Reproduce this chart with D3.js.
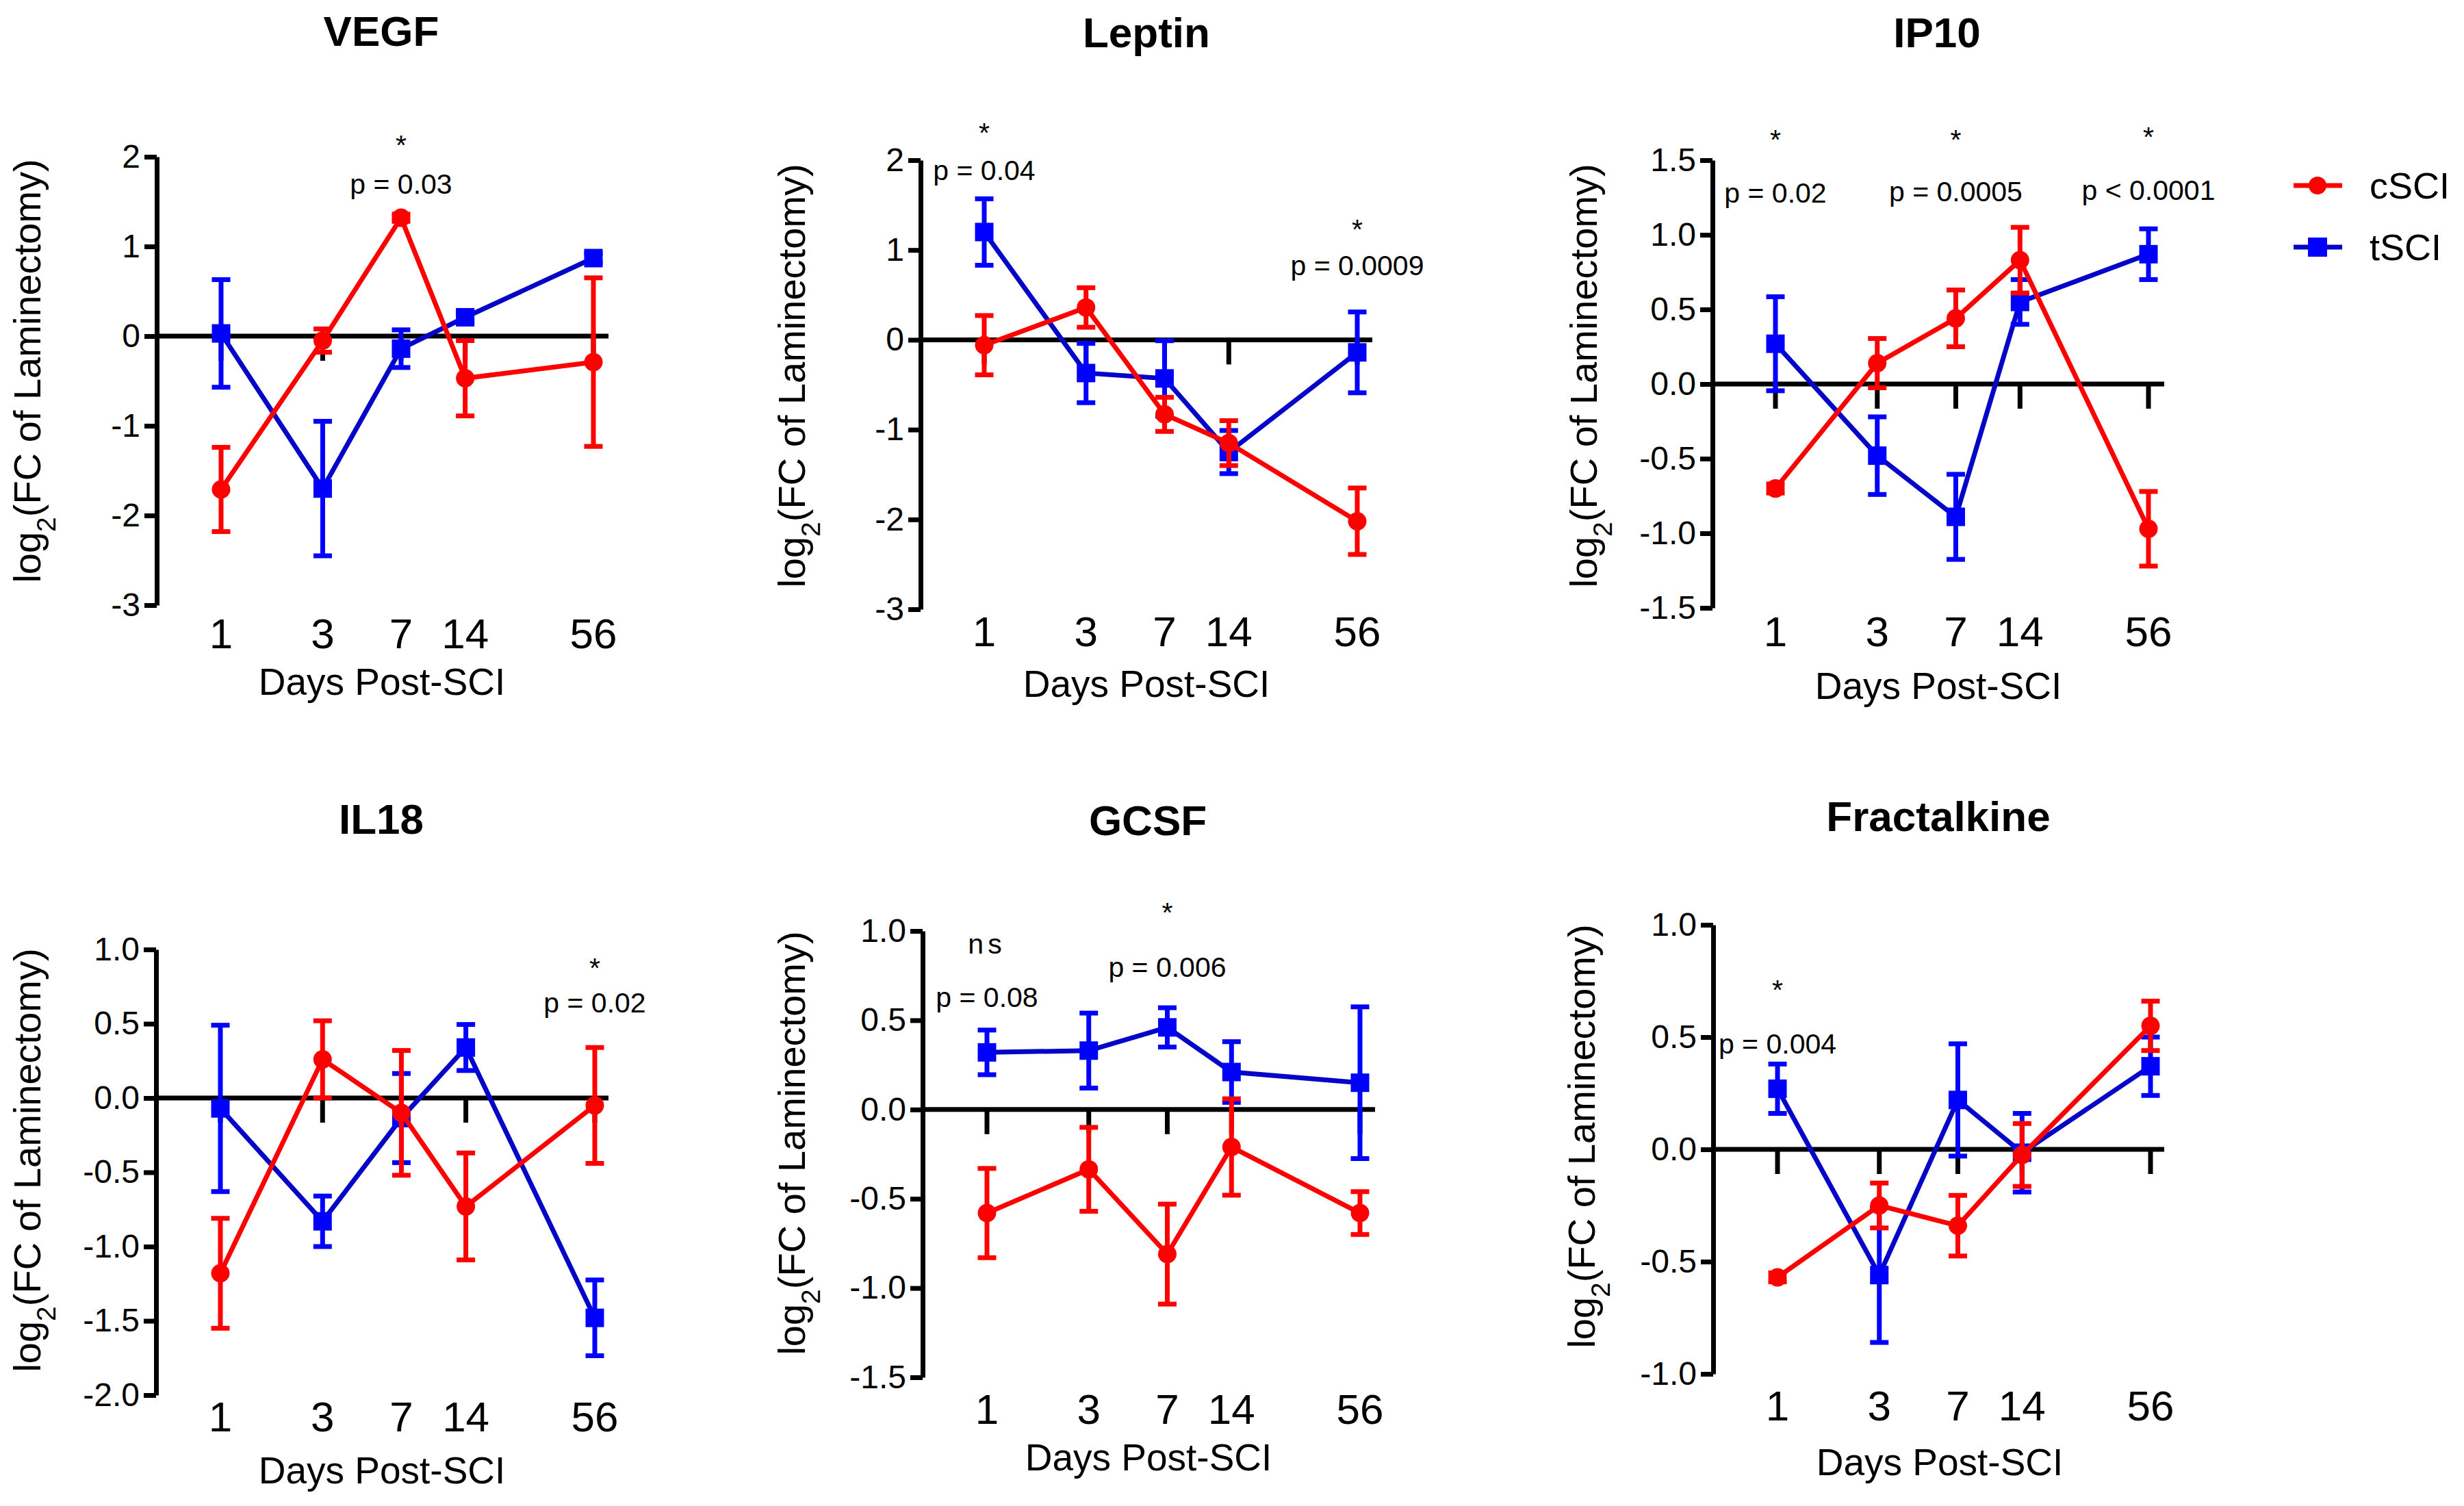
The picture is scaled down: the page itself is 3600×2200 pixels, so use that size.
<!DOCTYPE html>
<html>
<head>
<meta charset="utf-8">
<script src="https://cdn.jsdelivr.net/npm/d3@7"></script>
<style>
  body { margin: 0; background: #fff; }
  svg { display: block; font-family: "Liberation Sans", Arial, sans-serif; }
</style>
</head>
<body>
<div id="chart"></div>
<script>
// Days after injury (x values, log spaced)
const days = [1, 3, 7, 14, 56];
const titles = ["VEGF", "Leptin", "IP10", "IL18", "GCSF", "Fractalkine"];

// means and SEM, cSCI (red) / tSCI (blue)
const vegfC = [-1.71, -0.05, 1.32, -0.47, -0.29];
const vegfCErr = [0.47, 0.13, 0.04, 0.42, 0.94];
const vegfT = [0.03, -1.70, -0.14, 0.21, 0.87];
const vegfTErr = [0.60, 0.75, 0.21, 0.05, 0.05];

const leptinC = [-0.06, 0.36, -0.83, -1.15, -2.02];
const leptinCErr = [0.33, 0.22, 0.19, 0.25, 0.37];
const leptinT = [1.20, -0.37, -0.43, -1.25, -0.14];
const leptinTErr = [0.37, 0.33, 0.42, 0.24, 0.45];

const ip10C = [-0.70, 0.14, 0.44, 0.83, -0.97];
const ip10CErr = [0.03, 0.165, 0.19, 0.22, 0.25];
const ip10T = [0.27, -0.48, -0.89, 0.55, 0.87];
const ip10TErr = [0.315, 0.26, 0.285, 0.15, 0.17];

const il18C = [-1.18, 0.26, -0.10, -0.73, -0.05];
const il18CErr = [0.37, 0.26, 0.42, 0.36, 0.39];
const il18T = [-0.07, -0.83, -0.135, 0.34, -1.48];
const il18TErr = [0.56, 0.17, 0.30, 0.155, 0.255];

const gcsfC = [-0.58, -0.335, -0.81, -0.21, -0.58];
const gcsfCErr = [0.25, 0.235, 0.28, 0.27, 0.12];
const gcsfT = [0.32, 0.33, 0.46, 0.21, 0.15];
const gcsfTErr = [0.125, 0.21, 0.11, 0.17, 0.425];

const fracC = [-0.57, -0.25, -0.34, -0.025, 0.55];
const fracCErr = [0.02, 0.10, 0.135, 0.14, 0.11];
const fracT = [0.27, -0.56, 0.22, -0.015, 0.37];
const fracTErr = [0.11, 0.30, 0.25, 0.175, 0.13];

// y axis ticks
const ticksInt = [-3, -2, -1, 0, 1, 2];
const ticksIP10 = [-1.5, -1.0, -0.5, 0.0, 0.5, 1.0, 1.5];
const ticksIL18 = [-2.0, -1.5, -1.0, -0.5, 0.0, 0.5, 1.0];
const ticksGCSF = [-1.5, -1.0, -0.5, 0.0, 0.5, 1.0];
const ticksFrac = [-1.0, -0.5, 0.0, 0.5, 1.0];

// significance notes: [day, star/ns, p text, y of mark, y of p text]
const notesVEGF = [[7, "*", "p = 0.03", 2.2, 1.7]];
const notesLeptin = [[1, "*", "p = 0.04", 2.38, 1.89], [56, "*", "p = 0.0009", 1.30, 0.83]];
const notesIP10 = [[1, "*", "p = 0.02", 1.68, 1.28], [7, "*", "p = 0.0005", 1.68, 1.29], [56, "*", "p < 0.0001", 1.70, 1.30]];
const notesIL18 = [[56, "*", "p = 0.02", 0.92, 0.64]];
const notesGCSF = [[1, "ns", "p = 0.08", 0.93, 0.63], [7, "*", "p = 0.006", 1.14, 0.80]];
const notesFrac = [[1, "*", "p = 0.004", 0.74, 0.47]];

const panels = [
  { c: vegfC, ce: vegfCErr, t: vegfT, te: vegfTErr, ticks: ticksInt, notes: notesVEGF, fmt: d3.format("d") },
  { c: leptinC, ce: leptinCErr, t: leptinT, te: leptinTErr, ticks: ticksInt, notes: notesLeptin, fmt: d3.format("d") },
  { c: ip10C, ce: ip10CErr, t: ip10T, te: ip10TErr, ticks: ticksIP10, notes: notesIP10, fmt: d3.format(".1f") },
  { c: il18C, ce: il18CErr, t: il18T, te: il18TErr, ticks: ticksIL18, notes: notesIL18, fmt: d3.format(".1f") },
  { c: gcsfC, ce: gcsfCErr, t: gcsfT, te: gcsfTErr, ticks: ticksGCSF, notes: notesGCSF, fmt: d3.format(".1f") },
  { c: fracC, ce: fracCErr, t: fracT, te: fracTErr, ticks: ticksFrac, notes: notesFrac, fmt: d3.format(".1f") }
];

// pixel layout of each panel
const layout = [
  { ax: 229, x1: 323, x56: 867, end: 889, top: 229, bot: 884, tx: 557, ty: 45, tickY: 925, daysY: 996, dx: 558, lx: 39, ly: 542 },
  { ax: 1345, x1: 1438, x56: 1983, end: 2005, top: 234, bot: 890, tx: 1675, ty: 47, tickY: 922, daysY: 999, dx: 1675, lx: 1156, ly: 549 },
  { ax: 2502, x1: 2594, x56: 3139, end: 3162, top: 234, bot: 888, tx: 2830, ty: 47, tickY: 922, daysY: 1002, dx: 2832, lx: 2313, ly: 549 },
  { ax: 228, x1: 322, x56: 869, end: 889, top: 1387, bot: 2038, tx: 557, ty: 1196, tickY: 2069, daysY: 2148, dx: 558, lx: 39, ly: 1695 },
  { ax: 1348, x1: 1442, x56: 1987, end: 2009, top: 1360, bot: 2012, tx: 1677, ty: 1198, tickY: 2058, daysY: 2129, dx: 1678, lx: 1156, ly: 1670 },
  { ax: 2503, x1: 2597, x56: 3142, end: 3162, top: 1351, bot: 2007, tx: 2832, ty: 1192, tickY: 2053, daysY: 2136, dx: 2834, lx: 2310, ly: 1660 }
];

const RED = "#ff0000", BLUE = "#0000ff", BLUE_LINE = "#0505c8";
const minus = s => s.replace("\u2212", "-");

const svg = d3.select("#chart").append("svg")
  .attr("width", 3600)
  .attr("height", 2200);

panels.forEach((p, i) => {
  const L = layout[i];
  const g = svg.append("g");
  const x = d3.scaleLog().domain([1, 56]).range([L.x1, L.x56]);
  const y = d3.scaleLinear().domain(d3.extent(p.ticks)).range([L.bot, L.top]);

  // title
  g.append("text")
    .attr("x", L.tx).attr("y", L.ty).attr("dy", "0.35em")
    .attr("text-anchor", "middle")
    .style("font-size", "62px").style("font-weight", "bold")
    .text(titles[i]);

  // y axis
  const yAxis = g.append("g")
    .attr("transform", `translate(${L.ax},0)`)
    .call(d3.axisLeft(y).tickValues(p.ticks).tickSize(18).tickSizeOuter(0).tickPadding(6)
      .tickFormat(v => minus(p.fmt(v))));
  yAxis.attr("font-family", null).attr("font-size", null);
  yAxis.select(".domain").attr("stroke-width", 7).attr("stroke", "#000");
  yAxis.selectAll(".tick line").attr("stroke-width", 7).attr("stroke", "#000");
  yAxis.selectAll(".tick text").style("font-size", "48px").attr("fill", "#000");

  // zero line with downward day ticks
  g.append("line")
    .attr("x1", L.ax).attr("x2", L.end)
    .attr("y1", y(0)).attr("y2", y(0))
    .attr("stroke", "#000").attr("stroke-width", 7);
  g.selectAll(".dtick").data(days).join("line")
    .attr("x1", d => x(d)).attr("x2", d => x(d))
    .attr("y1", y(0)).attr("y2", y(0) + 36)
    .attr("stroke", "#000").attr("stroke-width", 7);

  // day labels
  g.selectAll(".dlab").data(days).join("text")
    .attr("x", d => x(d)).attr("y", L.tickY).attr("dy", "0.35em")
    .attr("text-anchor", "middle")
    .style("font-size", "62px")
    .text(d => d);

  g.append("text")
    .attr("x", L.dx).attr("y", L.daysY).attr("dy", "0.35em")
    .attr("text-anchor", "middle")
    .style("font-size", "55px")
    .text("Days Post-SCI");

  // y label
  const yl = g.append("text")
    .attr("transform", `translate(${L.lx},${L.ly}) rotate(-90)`)
    .attr("dy", "0.35em")
    .attr("text-anchor", "middle")
    .style("font-size", "56px");
  yl.append("tspan").text("log");
  yl.append("tspan").attr("baseline-shift", "sub").style("font-size", "39px").text("2");
  yl.append("tspan").text("(FC of Laminectomy)");

  // series: blue first, red on top
  const series = [
    { v: p.t, e: p.te, col: BLUE, lc: BLUE_LINE, shape: "square" },
    { v: p.c, e: p.ce, col: RED, lc: RED, shape: "circle" }
  ];
  series.forEach(s => {
    const pts = days.map((d, k) => ({ d, v: s.v[k], e: s.e[k] }));
    g.append("path")
      .datum(pts)
      .attr("fill", "none")
      .attr("stroke", s.lc)
      .attr("stroke-width", 7)
      .attr("d", d3.line().x(q => x(q.d)).y(q => y(q.v)));
    const eb = g.append("g").attr("stroke", s.col).attr("stroke-width", 7);
    eb.selectAll(".v").data(pts).join("line")
      .attr("x1", q => x(q.d)).attr("x2", q => x(q.d))
      .attr("y1", q => y(q.v - q.e)).attr("y2", q => y(q.v + q.e));
    eb.selectAll(".t").data(pts).join("line")
      .attr("x1", q => x(q.d) - 13.5).attr("x2", q => x(q.d) + 13.5)
      .attr("y1", q => y(q.v + q.e)).attr("y2", q => y(q.v + q.e));
    eb.selectAll(".b").data(pts).join("line")
      .attr("x1", q => x(q.d) - 13.5).attr("x2", q => x(q.d) + 13.5)
      .attr("y1", q => y(q.v - q.e)).attr("y2", q => y(q.v - q.e));
    if (s.shape === "circle") {
      g.selectAll(null).data(pts).join("circle")
        .attr("cx", q => x(q.d)).attr("cy", q => y(q.v)).attr("r", 13.5)
        .attr("fill", s.col);
    } else {
      g.selectAll(null).data(pts).join("rect")
        .attr("x", q => x(q.d) - 13.5).attr("y", q => y(q.v) - 13.5)
        .attr("width", 27).attr("height", 27)
        .attr("fill", s.col);
    }
  });

  // significance notes
  p.notes.forEach(n => {
    g.append("text")
      .attr("x", x(n[0])).attr("y", y(n[3]))
      .attr("dy", n[1] === "*" ? "0.57em" : "0.35em")
      .attr("text-anchor", "middle")
      .style("font-size", "41px")
      .style("letter-spacing", n[1] === "ns" ? "6px" : null)
      .text(n[1]);
    g.append("text")
      .attr("x", x(n[0])).attr("y", y(n[4])).attr("dy", "0.35em")
      .attr("text-anchor", "middle")
      .style("font-size", "41px")
      .text(n[2]);
  });
});

// legend
const legend = [
  { name: "cSCI", col: RED, lc: RED, shape: "circle", y: 271 },
  { name: "tSCI", col: BLUE, lc: BLUE_LINE, shape: "square", y: 361 }
];
legend.forEach(l => {
  svg.append("line")
    .attr("x1", 3351).attr("x2", 3422).attr("y1", l.y).attr("y2", l.y)
    .attr("stroke", l.lc).attr("stroke-width", 7);
  if (l.shape === "circle") {
    svg.append("circle").attr("cx", 3386).attr("cy", l.y).attr("r", 13).attr("fill", l.col);
  } else {
    svg.append("rect").attr("x", 3372).attr("y", l.y - 14).attr("width", 28).attr("height", 28).attr("fill", l.col);
  }
  svg.append("text")
    .attr("x", 3462).attr("y", l.y).attr("dy", "0.35em")
    .style("font-size", "54px")
    .text(l.name);
});
</script>
</body>
</html>
